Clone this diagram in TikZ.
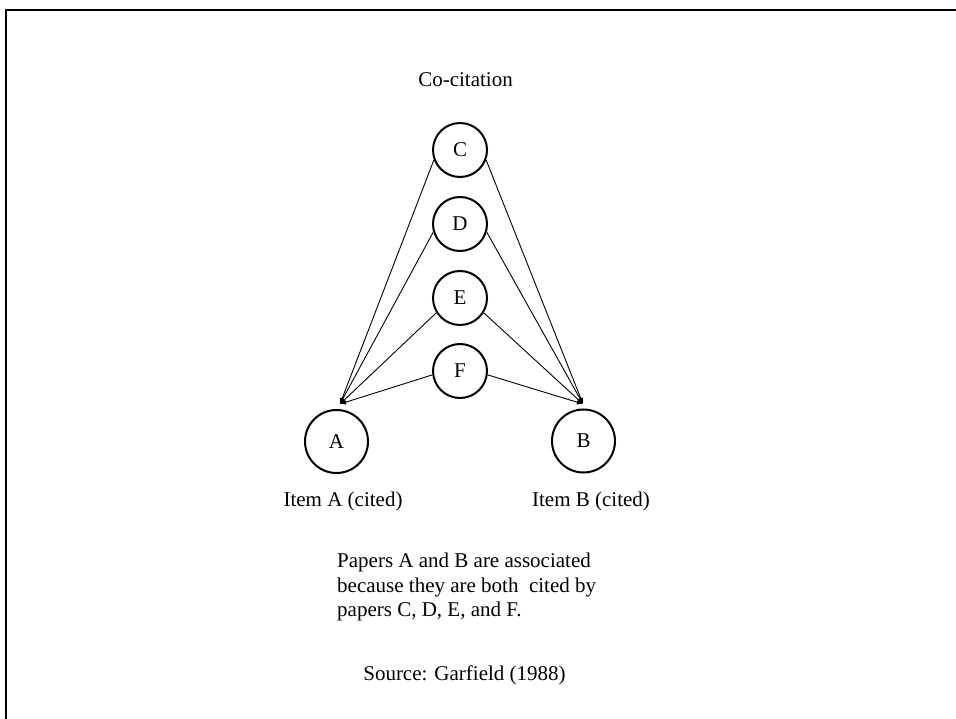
\documentclass[tikz,border=0pt]{standalone}
\usepackage{fontspec}
\setmainfont{Liberation Serif}
\usetikzlibrary{arrows.meta}
\begin{document}
\begin{tikzpicture}[x=1pt,y=-1pt,
  txt/.style={font=\fontsize{21}{24.5}\selectfont, inner sep=0pt},
  citing/.style={circle, draw, line width=2pt, minimum size=54pt, inner sep=0pt,
                 font=\fontsize{21}{24.5}\selectfont},
  cited/.style={citing, minimum size=63pt},
  link/.style={line width=0.9pt, -{Latex[length=6pt,width=5pt]}}]
\useasboundingbox (0,0) rectangle (956,719);
% frame
\draw[line width=2pt] (6,719) -- (6,10) -- (956,10);

\node[txt, anchor=base] (title) at (465.5,87) {Co-citation};

% citing papers
\node[citing] (C) at (460,150) {C};
\node[citing] (D) at (460,224) {D};
\node[citing] (E) at (460,298) {E};
\node[citing] (F) at (460,371) {F};

% cited items
\node[cited] (A) at (336.5,441.5) {A};
\node[cited] (B) at (583.5,441) {B};
\node[txt, anchor=base] (labA) at (343,506) {Item A (cited)};
\node[txt, anchor=base] (labB) at (591,506) {Item B (cited)};

\coordinate (tipA) at (340,404);
\coordinate (tipB) at (583,404);

\draw[link] (C.201) -- (tipA);
\draw[link] (D.197) -- (tipA);
\draw[link] (E.212) -- (tipA);
\draw[link] (F.188) -- (tipA);
\draw[link] (C.-21) -- (tipB);
\draw[link] (D.-17) -- (tipB);
\draw[link] (E.-32) -- (tipB);
\draw[link] (F.-8) -- (tipB);

% explanation
\node[txt, anchor=base west] (p1) at (337,567.5) {Papers A and B are associated};
\node[txt, anchor=base west] (p2) at (337,592) {because they are both\ \ cited by};
\node[txt, anchor=base west] (p3) at (337,616.5) {papers C, D, E, and F.};

\node[txt, anchor=base] (src) at (464.5,680) {Source: Garfield (1988)};
\end{tikzpicture}
\end{document}
